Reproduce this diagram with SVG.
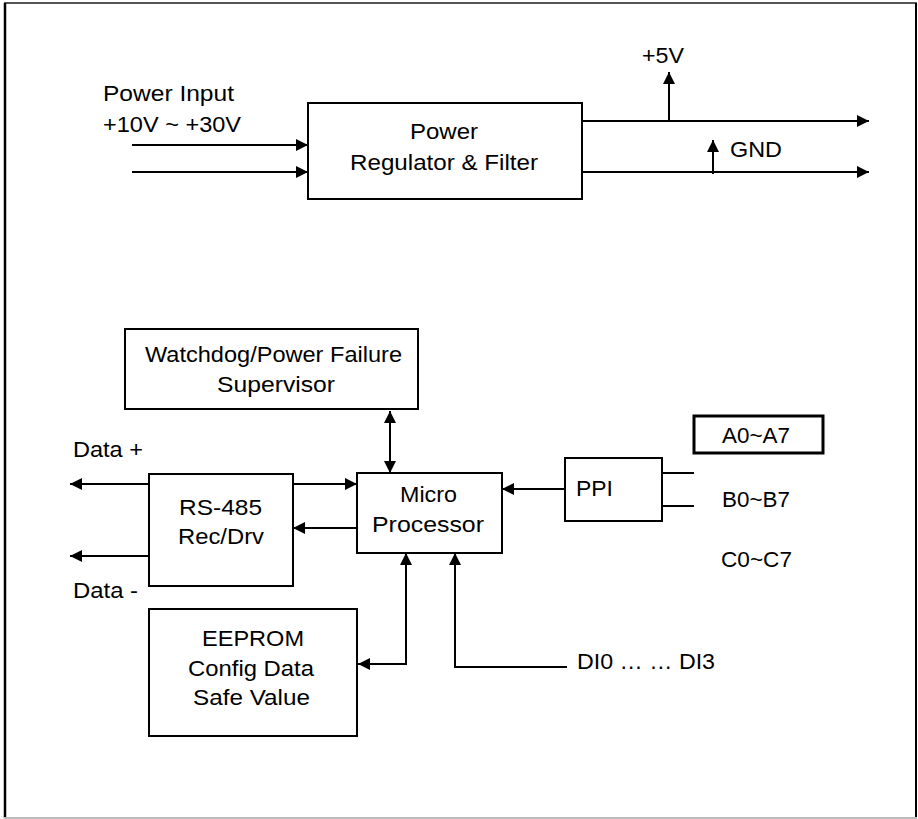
<svg xmlns="http://www.w3.org/2000/svg" width="918" height="819" viewBox="0 0 918 819">
<style>
  .box { fill: #fff; stroke: #000; stroke-width: 2; }
  .ln { fill: none; stroke: #000; stroke-width: 2; }
  .arr { marker-end: url(#ah); }
  .bi { marker-start: url(#ah); marker-end: url(#ah); }
  text { font-family: "Liberation Sans", Arial, sans-serif; font-size: 22px; fill: #000; }
</style>
<defs>
  <marker id="ah" markerUnits="userSpaceOnUse" markerWidth="12" markerHeight="12" refX="12" refY="6" orient="auto-start-reverse" viewBox="0 0 12 12">
    <path d="M0,0 L12,6 L0,12 z" fill="#000"/>
  </marker>
</defs>
<rect width="918" height="819" fill="#fff"/>
<g id="frame">
  <line x1="4" y1="3" x2="917" y2="3" stroke="#555" stroke-width="2"/>
  <line x1="5" y1="3" x2="5" y2="818" stroke="#000" stroke-width="2.5"/>
  <line x1="916" y1="3" x2="916" y2="818" stroke="#000" stroke-width="2"/>
  <line x1="4" y1="818" x2="917" y2="818" stroke="#bbb" stroke-width="2"/>
</g>
<g id="connectors">
  <path class="ln arr" d="M132,145 H308"/>
  <path class="ln arr" d="M132,172 H308"/>
  <path class="ln arr" d="M582,121 H869"/>
  <path class="ln arr" d="M582,172 H869"/>
  <path class="ln arr" d="M669,121 V72"/>
  <path class="ln arr" d="M713,174 V140"/>
  <path class="ln bi" d="M390,411 V473"/>
  <path class="ln arr" d="M149,484 H70"/>
  <path class="ln arr" d="M149,556 H70"/>
  <path class="ln arr" d="M293,484 H357"/>
  <path class="ln arr" d="M357,528 H293"/>
  <path class="ln arr" d="M565,489 H502"/>
  <path class="ln" d="M662,473 H694"/>
  <path class="ln" d="M662,506 H694"/>
  <path class="ln bi" d="M358,664 H406 V553"/>
  <path class="ln arr" d="M567,667 H455 V553"/>
</g>
<g id="power-input-label">
  <text x="103" y="101" textLength="131" lengthAdjust="spacingAndGlyphs">Power Input</text>
  <text x="103" y="132" textLength="138" lengthAdjust="spacingAndGlyphs">+10V ~ +30V</text>
</g>
<g id="power-regulator">
  <rect class="box" x="308" y="103" width="274" height="96"/>
  <text x="410" y="139" textLength="68" lengthAdjust="spacingAndGlyphs">Power</text>
  <text x="350" y="170" textLength="188" lengthAdjust="spacingAndGlyphs">Regulator &amp; Filter</text>
</g>
<g id="label-5v">
  <text x="642" y="63" textLength="42" lengthAdjust="spacingAndGlyphs">+5V</text>
</g>
<g id="label-gnd">
  <text x="730" y="157" textLength="52" lengthAdjust="spacingAndGlyphs">GND</text>
</g>
<g id="watchdog">
  <rect class="box" x="125" y="329" width="293" height="80"/>
  <text x="145" y="362" textLength="257" lengthAdjust="spacingAndGlyphs">Watchdog/Power Failure</text>
  <text x="217" y="392" textLength="118" lengthAdjust="spacingAndGlyphs">Supervisor</text>
</g>
<g id="data-plus">
  <text x="73" y="457" textLength="70" lengthAdjust="spacingAndGlyphs">Data +</text>
</g>
<g id="data-minus">
  <text x="73" y="598" textLength="65" lengthAdjust="spacingAndGlyphs">Data -</text>
</g>
<g id="rs485">
  <rect class="box" x="149" y="474" width="144" height="112"/>
  <text x="179" y="515" textLength="83" lengthAdjust="spacingAndGlyphs">RS-485</text>
  <text x="178" y="544" textLength="86" lengthAdjust="spacingAndGlyphs">Rec/Drv</text>
</g>
<g id="microprocessor">
  <rect class="box" x="357" y="473" width="145" height="80"/>
  <text x="400" y="502" textLength="57" lengthAdjust="spacingAndGlyphs">Micro</text>
  <text x="372" y="532" textLength="112" lengthAdjust="spacingAndGlyphs">Processor</text>
</g>
<g id="ppi">
  <rect class="box" x="565" y="458" width="97" height="63"/>
  <text x="576" y="496" textLength="37" lengthAdjust="spacingAndGlyphs">PPI</text>
</g>
<g id="port-a">
  <rect x="694" y="416" width="129" height="37" fill="#fff" stroke="#000" stroke-width="3"/>
  <text x="722" y="443" textLength="68" lengthAdjust="spacingAndGlyphs">A0~A7</text>
</g>
<g id="port-b">
  <text x="722" y="507" textLength="68" lengthAdjust="spacingAndGlyphs">B0~B7</text>
</g>
<g id="port-c">
  <text x="721" y="567" textLength="71" lengthAdjust="spacingAndGlyphs">C0~C7</text>
</g>
<g id="eeprom">
  <rect class="box" x="149" y="609" width="208" height="127"/>
  <text x="202" y="646" textLength="102" lengthAdjust="spacingAndGlyphs">EEPROM</text>
  <text x="188" y="676" textLength="126" lengthAdjust="spacingAndGlyphs">Config Data</text>
  <text x="193" y="705" textLength="117" lengthAdjust="spacingAndGlyphs">Safe Value</text>
</g>
<g id="di-label">
  <text x="577" y="669" textLength="138" lengthAdjust="spacingAndGlyphs">DI0 … … DI3</text>
</g>
</svg>
